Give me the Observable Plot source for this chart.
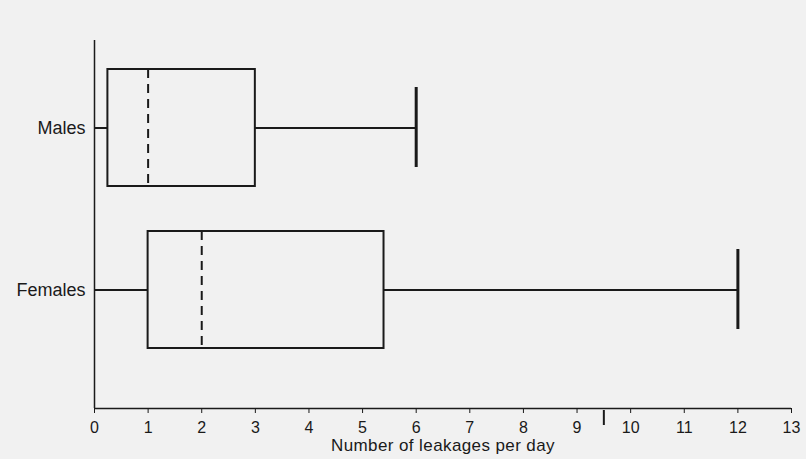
<!DOCTYPE html>
<html>
<head>
<meta charset="utf-8">
<script src="https://cdn.jsdelivr.net/npm/d3@7"></script>
<script src="https://cdn.jsdelivr.net/npm/@observablehq/plot@0.6"></script>
<style>
  html, body { margin: 0; padding: 0; background: #f1f1f1; }
  #chart svg { display: block; }
  #chart svg [aria-label="x-axis tick label"] { font-size: 16px; }
  #chart svg [aria-label="y-axis tick label"] { font-size: 18px; }
  #chart svg [aria-label="text"] { letter-spacing: 0.4px; }
</style>
</head>
<body>
<div id="chart"></div>
<script>
const groups = ["Males", "Females"];
const minVals = [0, 0];
const q1Vals = [0.25, 1];
const medianVals = [1, 2];
const q3Vals = [3, 5.4];
const maxVals = [6, 12];
const xTicks = [0, 1, 2, 3, 4, 5, 6, 7, 8, 9, 10, 11, 12, 13];
const penMark = [9.5];

const data = groups.map((g, i) => ({
  group: g, min: minVals[i], q1: q1Vals[i], median: medianVals[i], q3: q3Vals[i], max: maxVals[i]
}));

const ink = "#1a1a1a";
const chart = Plot.plot({
  width: 806,
  height: 459,
  marginLeft: 94,
  marginRight: 15,
  marginTop: 40,
  marginBottom: 51,
  style: { background: "#f1f1f1", fontFamily: "Liberation Sans, Arial, sans-serif", color: ink },
  x: { domain: [0, 13], label: null },
  y: { domain: groups, range: [69, 348], paddingInner: 0.278, paddingOuter: 0, label: null },
  marks: [
    Plot.axisX({ ticks: xTicks, tickSize: 5, tickPadding: 8, label: null }),
    Plot.axisY({ tickSize: 0, tickPadding: 9, label: null }),
    Plot.ruleY([0], { y: null, dy: 184, stroke: ink, strokeWidth: 1.5 }),
    Plot.ruleX([0], { stroke: ink, strokeWidth: 1.5 }),
    Plot.text(["Number of leakages per day"], { frameAnchor: "bottom", dy: 42, fontSize: 17, fill: ink }),
    Plot.ruleY(data, { y: "group", x1: "min", x2: "q1", stroke: ink, strokeWidth: 2 }),
    Plot.ruleY(data, { y: "group", x1: "q3", x2: "max", stroke: ink, strokeWidth: 2 }),
    Plot.barX(data, { y: "group", x1: "q1", x2: "q3", fill: "none", stroke: ink, strokeWidth: 2 }),
    Plot.tickX(data, { y: "group", x: "median", stroke: ink, strokeWidth: 2, strokeDasharray: "9,6" }),
    Plot.tickX(data, { y: "group", x: "max", stroke: ink, strokeWidth: 3, insetTop: 18, insetBottom: 19 }),
    Plot.ruleX(penMark, { stroke: ink, strokeWidth: 2, insetTop: 370, insetBottom: -17 })
  ]
});
document.getElementById("chart").appendChild(chart);
</script>
</body>
</html>
